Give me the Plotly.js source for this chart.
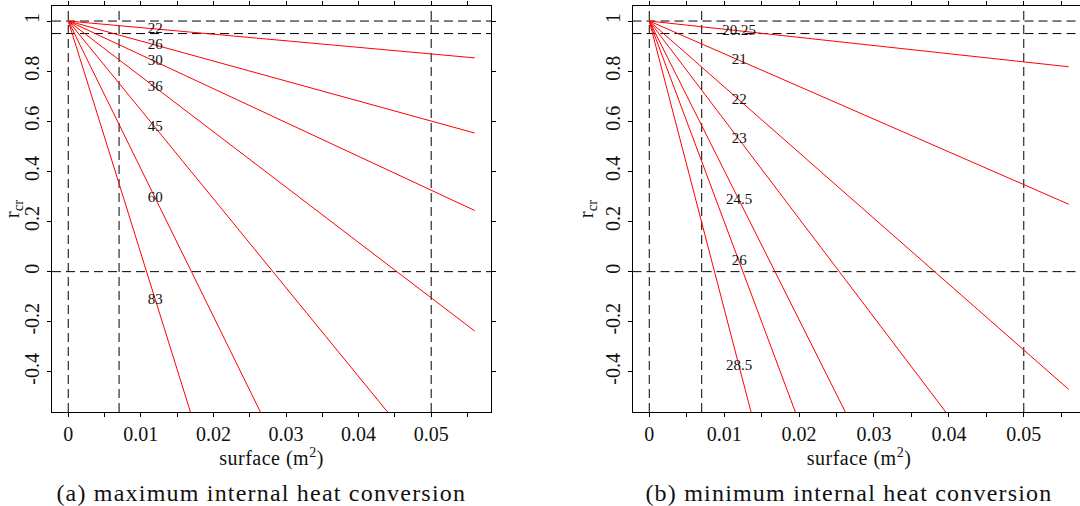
<!DOCTYPE html>
<html><head><meta charset="utf-8">
<script src="https://cdn.plot.ly/plotly-3.0.1.min.js"></script>
<style>
html,body{margin:0;padding:0;overflow:hidden;background:#fff}
#chart{width:1090px;height:506px}
#chart .annotation-text{letter-spacing:1.2px}
#chart .xtitle,#chart .x2title{letter-spacing:0.5px}
</style>
</head><body><div id="chart"></div>
<script>
// ---- data ----
const surfaceStart = 0;
const surfaceEnd = 0.056;
const rcrStart = 1;
const labelSurface = 0.012;
const tempsMax = ['22', '26', '30', '36', '45', '60', '83'];
const rcrEndMax = [0.853, 0.553, 0.244, -0.237, -0.986, -2.30, -4.19];
const tempsMin = ['20.25', '21', '22', '23', '24.5', '26', '28.5'];
const rcrEndMin = [0.8175, 0.269, -0.470, -1.207, -2.337, -3.48, -5.43];
const refSurface = [0, 0.007, 0.05];
const refRcr = [1, 0.95, 0];
const xTickVals = [0, 0.01, 0.02, 0.03, 0.04, 0.05];
const xTickText = ['0', '0.01', '0.02', '0.03', '0.04', '0.05'];
const xMinorStep = 0.005;
const yTickVals = [-0.4, -0.2, 0, 0.2, 0.4, 0.6, 0.8, 1];
const yTickText = ['-0.4', '-0.2', '0', '0.2', '0.4', '0.6', '0.8', '1'];
const captions = ['(a) maximum internal heat conversion', '(b) minimum internal heat conversion'];
const xTitle = 'surface (m<sup>2</sup>)';
const yTitle = 'r<sub>cr</sub>';

// ---- styling ----
const FONT = 'Liberation Serif';
const W = 1090, H = 506;
const traces = [];
function addPanel(temps, ends, xa, ya) {
  const lx = [], ly = [];
  temps.forEach((t, i) => {
    traces.push({
      type: 'scatter', mode: 'lines', xaxis: xa, yaxis: ya,
      x: [surfaceStart, surfaceEnd], y: [rcrStart, ends[i]],
      line: {color: '#ff0000', width: 1}, hoverinfo: 'skip', showlegend: false
    });
    lx.push(labelSurface);
    ly.push(rcrStart + (ends[i] - rcrStart) * (labelSurface - surfaceStart) / (surfaceEnd - surfaceStart));
  });
  traces.push({
    type: 'scatter', mode: 'text', xaxis: xa, yaxis: ya,
    x: lx, y: ly, text: temps, textposition: 'middle center',
    textfont: {family: FONT, size: 15, color: '#111'}, hoverinfo: 'skip', showlegend: false, cliponaxis: false
  });
}
addPanel(tempsMax, rcrEndMax, 'x', 'y');
addPanel(tempsMin, rcrEndMin, 'x2', 'y2');

const shapes = [];
[['x', 'y'], ['x2', 'y2']].forEach(([xa, ya]) => {
  refSurface.forEach(v => shapes.push({type: 'line', xref: xa, yref: ya + ' domain', x0: v, x1: v, y0: 0, y1: 1,
    line: {color: '#000', width: 1, dash: '9px,5px'}, layer: 'below'}));
  refRcr.forEach(v => shapes.push({type: 'line', xref: xa + ' domain', yref: ya, x0: 0, x1: 1, y0: v, y1: v,
    line: {color: '#000', width: 1, dash: '9px,5px'}, layer: 'below'}));
});

function xAxis(domain, anchor) {
  return {domain: domain, anchor: anchor, range: [-0.00224, 0.05824], tickmode: 'array', tickvals: xTickVals, ticktext: xTickText,
    ticks: 'outside', ticklen: 4, tickcolor: '#000', showline: true, linecolor: '#000', linewidth: 1, mirror: 'ticks',
    minor: {dtick: xMinorStep, tick0: 0, ticks: 'outside', ticklen: 4, tickcolor: '#000', showgrid: false},
    showgrid: false, zeroline: false, tickfont: {family: FONT, size: 20, color: '#111'},
    title: {text: xTitle, font: {family: FONT, size: 20, color: '#111'}, standoff: 3}};
}
function yAxis(domain, anchor) {
  return {domain: domain, anchor: anchor, range: [-0.56, 1.06], tickmode: 'array', tickvals: yTickVals, ticktext: yTickText,
    tickangle: -90, ticks: 'outside', ticklen: 4, tickcolor: '#000', showline: true, linecolor: '#000', linewidth: 1, mirror: 'ticks',
    showgrid: false, zeroline: false, tickfont: {family: FONT, size: 20, color: '#111'},
    title: {text: yTitle, font: {family: FONT, size: 21, color: '#111'}, standoff: 2}};
}
const yd = [1 - 412 / H, 1 - 6 / H];
const layout = {
  width: W, height: H, margin: {l: 0, r: 0, t: 0, b: 0}, paper_bgcolor: '#fff', plot_bgcolor: '#fff', showlegend: false,
  font: {family: FONT},
  xaxis: xAxis([52 / W, 491 / W], 'y'), yaxis: yAxis(yd, 'x'),
  xaxis2: xAxis([632.5 / W, 1085.5 / W], 'y2'), yaxis2: yAxis(yd, 'x2'),
  shapes: shapes,
  annotations: [
    {text: captions[0], xref: 'paper', yref: 'paper', x: 261.7 / W, y: 1 - 493 / H, xanchor: 'center', yanchor: 'middle', showarrow: false,
      font: {family: FONT, size: 24, color: '#111'}},
    {text: captions[1], xref: 'paper', yref: 'paper', x: 849 / W, y: 1 - 493 / H, xanchor: 'center', yanchor: 'middle', showarrow: false,
      font: {family: FONT, size: 24, color: '#111'}}
  ]
};
Plotly.newPlot('chart', traces, layout, {staticPlot: true, displayModeBar: false});
</script></body></html>
